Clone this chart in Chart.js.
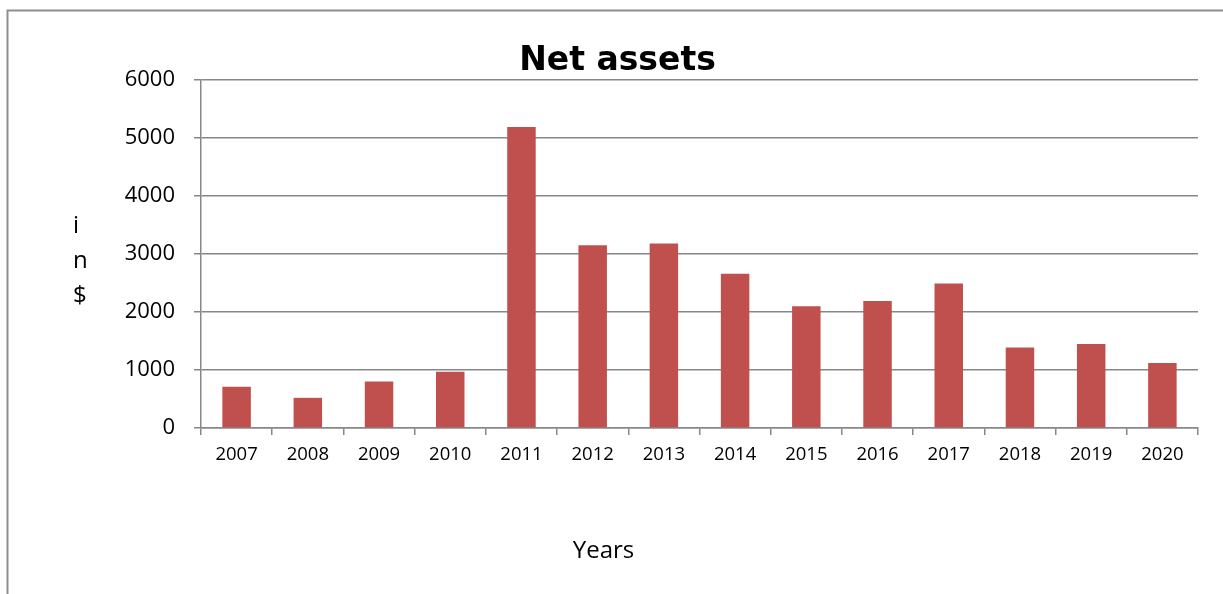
<!DOCTYPE html>
<html>
<head>
<meta charset="utf-8">
<script src="https://cdn.jsdelivr.net/npm/chart.js@4"></script>
<style>
  html, body { margin: 0; padding: 0; background: #fff; }
  #wrap { position: relative; width: 1223px; height: 594px; }
</style>
</head>
<body>
<div id="wrap"><canvas id="c" width="1223" height="594"></canvas></div>
<script>
const categories = ['2007','2008','2009','2010','2011','2012','2013','2014','2015','2016','2017','2018','2019','2020'];
const netAssets = [710, 520, 800, 970, 5190, 3150, 3180, 2660, 2100, 2190, 2490, 1390, 1450, 1120];
const yTicks = [0, 1000, 2000, 3000, 4000, 5000, 6000];
const chartTitle = 'Net assets';
const yTitleLetters = ['i', 'n', '$'];
const xTitle = 'Years';

const GRID = '#878787';

const decor = {
  id: 'decor',
  beforeDraw(chart) {
    const ctx = chart.ctx;
    ctx.save();
    ctx.fillStyle = '#fff';
    ctx.fillRect(0, 0, chart.width, chart.height);
    ctx.strokeStyle = '#8e8e8e';
    ctx.lineWidth = 2;
    ctx.beginPath();
    ctx.moveTo(7.5, chart.height);
    ctx.lineTo(7.5, 10.5);
    ctx.lineTo(chart.width, 10.5);
    ctx.stroke();
    ctx.restore();
  },
  afterDraw(chart) {
    const ctx = chart.ctx;
    ctx.save();
    ctx.fillStyle = '#000';
    ctx.font = 'bold 33px "DejaVu Sans"';
    ctx.textAlign = 'center';
    ctx.textBaseline = 'alphabetic';
    ctx.fillText(chartTitle, 617.5, 70);
    ctx.font = '24px "Open Sans"';
    ctx.fillText(xTitle, 603.5, 558);
    ctx.textAlign = 'left';
    const base = [233, 268, 303];
    yTitleLetters.forEach((l, i) => ctx.fillText(l, 73, base[i]));
    ctx.restore();
  }
};

new Chart(document.getElementById('c'), {
  type: 'bar',
  data: {
    labels: categories,
    datasets: [{
      label: chartTitle,
      data: netAssets,
      backgroundColor: '#C0504D',
      borderWidth: 0,
      barPercentage: 0.4,
      categoryPercentage: 1.0
    }]
  },
  options: {
    responsive: false,
    animation: false,
    devicePixelRatio: 1,
    layout: { padding: { top: 80, right: 25, bottom: 0, left: 0 } },
    plugins: {
      legend: { display: false },
      title: { display: false },
      tooltip: { enabled: false }
    },
    scales: {
      x: {
        offset: true,
        grid: {
          offset: true,
          drawOnChartArea: false,
          drawTicks: true,
          tickLength: 7,
          color: GRID,
          lineWidth: 1.5
        },
        border: { display: true, color: GRID, width: 1.5 },
        ticks: {
          color: '#000',
          font: { family: '"Open Sans"', size: 18.5 },
          padding: 9,
          maxRotation: 0,
          autoSkip: false
        },
        title: { display: false },
        afterFit(scale) { scale.height = 594 - 428; }
      },
      y: {
        min: 0,
        max: 6000,
        afterBuildTicks(scale) { scale.ticks = yTicks.map(v => ({ value: v })); },
        grid: {
          color: GRID,
          lineWidth: 1.5,
          drawTicks: true,
          tickLength: 7
        },
        border: { display: true, color: GRID, width: 1.5 },
        ticks: {
          color: '#000',
          font: { family: '"Open Sans"', size: 22 },
          padding: 19,
          callback: (v) => String(v)
        },
        afterFit(scale) { scale.width = 201; }
      }
    }
  },
  plugins: [decor]
});
</script>
</body>
</html>
